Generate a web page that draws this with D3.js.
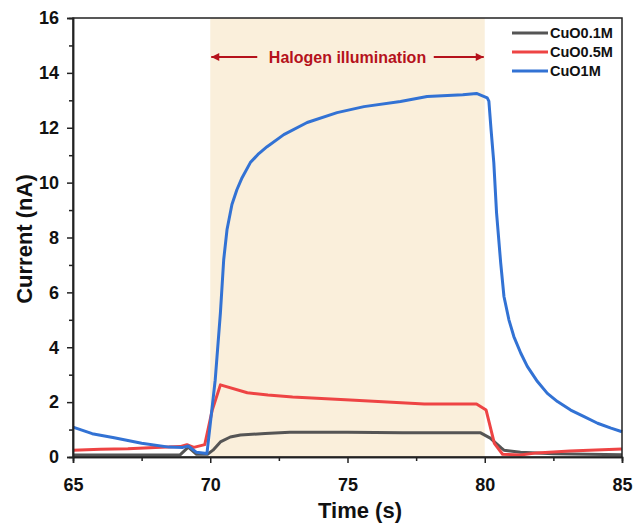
<!DOCTYPE html>
<html><head><meta charset="utf-8">
<script src="https://cdn.jsdelivr.net/npm/d3@7"></script>
<style>body{margin:0;background:#fff}svg{font-family:"Liberation Sans",Arial,sans-serif}</style>
</head><body><svg id="c" width="633" height="524"></svg>
<script>
const seriesNames = ["CuO0.1M","CuO0.5M","CuO1M"];
const seriesColors = ["#555555","#ee4444","#3272d4"];
const gray = [[65,0.07],[66,0.07],[67,0.07],[68,0.07],[68.9,0.08],[69.2,0.36],[69.5,0.1],[69.9,0.1],[70.1,0.25],[70.37,0.55],[70.73,0.73],[71.1,0.8],[72,0.86],[72.9,0.9],[75,0.9],[77,0.88],[79,0.88],[79.85,0.88],[80.2,0.69],[80.6,0.33],[80.7,0.25],[81.3,0.17],[82.5,0.12],[85,0.08]];
const red = [[65,0.25],[66,0.28],[67,0.3],[68,0.35],[68.9,0.38],[69.15,0.45],[69.4,0.35],[69.8,0.45],[70.07,1.7],[70.37,2.63],[71.35,2.34],[72.1,2.26],[73,2.19],[75.1,2.08],[77.8,1.93],[79.7,1.93],[80.05,1.71],[80.35,0.5],[80.65,0.1],[81.3,0.07],[81.9,0.15],[83.1,0.22],[85,0.29]];
const blue = [[65,1.09],[65.7,0.85],[66.5,0.7],[67.5,0.5],[68.5,0.36],[69,0.35],[69.2,0.4],[69.5,0.17],[69.88,0.13],[70.18,2.8],[70.37,5.25],[70.49,7.19],[70.61,8.28],[70.79,9.2],[70.97,9.74],[71.16,10.18],[71.46,10.73],[71.77,11.06],[72.07,11.31],[72.68,11.75],[73.53,12.19],[74.62,12.55],[75.6,12.77],[76.93,12.96],[77.9,13.14],[79.2,13.2],[79.7,13.25],[80.09,13.09],[80.15,12.97],[80.23,11.93],[80.33,10.73],[80.43,8.9],[80.58,7.08],[80.7,5.85],[80.88,5.0],[81.06,4.39],[81.31,3.79],[81.55,3.3],[81.92,2.75],[82.28,2.32],[82.65,2.02],[83.13,1.71],[83.62,1.47],[84.11,1.23],[84.6,1.05],[85,0.92]];
const seriesData = [gray, red, blue];
const xTicks = [65,70,75,80,85];
const yTicks = [0,2,4,6,8,10,12,14,16];
const illum = [70,80];

const svg = d3.select("#c");
const m = {l:73, r:622, t:18, b:457};
const x = d3.scaleLinear().domain([65,85]).range([m.l,m.r]);
const y = d3.scaleLinear().domain([0,16]).range([m.b,m.t]);

svg.append("rect").attr("x",x(illum[0])).attr("y",m.t).attr("width",x(illum[1])-x(illum[0])).attr("height",m.b-m.t).attr("fill","#faefdb");

const line = d3.line().x(d=>x(d[0])).y(d=>y(d[1]));
seriesData.forEach((s,i)=>{
  svg.append("path").attr("d",line(s)).attr("fill","none").attr("stroke",seriesColors[i]).attr("stroke-width",3).attr("stroke-linejoin","round");
});

// frame
svg.append("rect").attr("x",m.l).attr("y",m.t).attr("width",m.r-m.l).attr("height",m.b-m.t).attr("fill","none").attr("stroke","#222").attr("stroke-width",1.5);

// axes
const xa = svg.append("g").attr("transform",`translate(0,${m.b})`)
  .call(d3.axisBottom(x).tickValues(xTicks).tickSize(6).tickPadding(15).tickFormat(d3.format("d")));
const xm = svg.append("g").attr("transform",`translate(0,${m.b})`)
  .call(d3.axisBottom(x).tickValues([67.5,72.5,77.5,82.5]).tickSize(4).tickFormat(""));
const ya = svg.append("g").attr("transform",`translate(${m.l},0)`)
  .call(d3.axisLeft(y).tickValues(yTicks).tickSize(6).tickPadding(8).tickFormat(d3.format("d")));
const ym = svg.append("g").attr("transform",`translate(${m.l},0)`)
  .call(d3.axisLeft(y).tickValues([1,3,5,7,9,11,13,15]).tickSize(4).tickFormat(""));
[xa,xm,ya,ym].forEach(g=>{
  g.select(".domain").attr("stroke","#222").attr("stroke-width",1.5);
  g.selectAll(".tick line").attr("stroke","#222").attr("stroke-width",1.5);
  g.selectAll("text").attr("font-size",18).attr("font-weight","bold").attr("fill","#111").attr("font-family","Liberation Sans, Arial, sans-serif");
});

svg.append("text").attr("x",360).attr("y",518).attr("text-anchor","middle").attr("font-size",22).attr("font-weight","bold").attr("fill","#111").text("Time (s)");
svg.append("text").attr("transform",`translate(32,239) rotate(-90)`).attr("text-anchor","middle").attr("font-size",22).attr("font-weight","bold").attr("fill","#111").text("Current (nA)");

// illumination annotation
const dr = "#b5121b";
const ay = 57;
const defs = svg.append("defs");
defs.append("marker").attr("id","ah").attr("viewBox","0 0 10 10").attr("refX",10).attr("refY",5).attr("markerWidth",6).attr("markerHeight",4).attr("orient","auto-start-reverse")
  .append("path").attr("d","M0,0L10,5L0,10z").attr("fill",dr);
svg.append("line").attr("x1",x(70)+47).attr("x2",x(70)+1).attr("y1",ay).attr("y2",ay).attr("stroke",dr).attr("stroke-width",2).attr("marker-end","url(#ah)");
svg.append("line").attr("x1",x(80)-51).attr("x2",x(80)-1).attr("y1",ay).attr("y2",ay).attr("stroke",dr).attr("stroke-width",2).attr("marker-end","url(#ah)");
svg.append("text").attr("x",(x(70)+x(80))/2).attr("y",ay+5.5).attr("text-anchor","middle").attr("font-size",16).attr("font-weight","bold").attr("fill",dr).text("Halogen illumination");

// legend
seriesNames.forEach((n,i)=>{
  const ly = 33 + i*19;
  svg.append("line").attr("x1",512).attr("x2",548).attr("y1",ly).attr("y2",ly).attr("stroke",seriesColors[i]).attr("stroke-width",3);
  svg.append("text").attr("x",550).attr("y",ly+5).attr("font-size",14.5).attr("font-weight","bold").attr("fill","#111").text(n);
});
</script></body></html>
